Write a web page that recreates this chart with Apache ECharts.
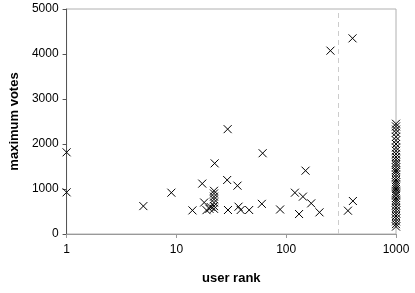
<!DOCTYPE html>
<html><head><meta charset="utf-8">
<script src="https://cdn.jsdelivr.net/npm/echarts@6/dist/echarts.min.js"></script>
<style>html,body{margin:0;padding:0;background:#fff}#c{width:415px;height:293px}</style>
</head><body><div id="c"></div>
<script>
// user rank values (x) and maximum votes (y)
var ranks = [1, 1, 5, 9, 14, 17.2, 17.9, 18.8, 20, 20.5, 22, 22, 22, 22, 22, 22, 22, 22.3, 29.3, 29, 29.5, 36, 36.8, 38.5, 46, 60, 61, 88,
  120, 131, 142, 150, 169, 201, 253, 365, 402, 405];
var votes = [1815, 926, 620, 918, 525, 1120, 700, 530, 560, 600, 960, 900, 830, 770, 700, 620, 560, 1570, 2330, 1200, 533, 1074, 607, 533, 533, 670, 1795, 545,
  918, 444, 830, 1407, 681, 481, 4074, 518, 4348, 733];
var rank1000Votes = [2450, 2390, 2320, 2250, 2160, 2080, 2000, 1920, 1850, 1780, 1710, 1650, 1590, 1540, 1480, 1420, 1380, 1320, 1260, 1200, 1150,
  1100, 1050, 1000, 950, 900, 860, 800, 750, 700, 640, 580, 520, 460, 400, 340, 280, 220, 165];
var cutoffRank = 300;
var xTicks = [1, 10, 100, 1000];
var yTicks = [0, 1000, 2000, 3000, 4000, 5000];

var pts = ranks.map(function (r, i) { return [r, votes[i]]; });
rank1000Votes.forEach(function (v) { pts.push([1000, v]); });

var chart = echarts.init(document.getElementById('c'), null, {renderer: 'canvas'});
var font = 'Liberation Sans, Arial, sans-serif';
function plain(v) { return String(Math.round(v)); }
chart.setOption({
  animation: false,
  grid: {left: 64, right: 19, top: 9, bottom: 59, show: true, borderColor: '#b0b0b0', borderWidth: 1},
  xAxis: {
    type: 'log', logBase: 10, min: xTicks[0], max: xTicks[xTicks.length - 1],
    name: 'user rank', nameLocation: 'middle', nameGap: 38,
    nameTextStyle: {fontFamily: font, fontSize: 13, fontWeight: 'bold', color: '#000'},
    axisLine: {lineStyle: {color: '#999', width: 1}},
    axisTick: {show: true, length: 4, lineStyle: {color: '#999'}},
    minorTick: {show: false},
    splitLine: {show: false},
    axisLabel: {fontFamily: font, fontSize: 12, color: '#000', margin: 10, formatter: plain}
  },
  yAxis: {
    type: 'value', min: yTicks[0], max: yTicks[yTicks.length - 1], interval: 1000,
    name: 'maximum votes', nameLocation: 'middle', nameGap: 43,
    nameTextStyle: {fontFamily: font, fontSize: 13, fontWeight: 'bold', color: '#000'},
    axisLine: {show: true, lineStyle: {color: '#555', width: 1}},
    axisTick: {show: true, length: 4, lineStyle: {color: '#555'}},
    splitLine: {show: false},
    axisLabel: {fontFamily: font, fontSize: 12, color: '#000', margin: 8, formatter: plain}
  },
  series: [{
    type: 'scatter',
    data: pts,
    symbol: 'path://M0,0L10,10M10,0L0,10',
    symbolSize: 8,
    itemStyle: {color: 'rgba(0,0,0,0)', borderColor: '#000', borderWidth: 1, opacity: 1},
    markLine: {
      silent: true, symbol: ['none', 'none'], label: {show: false},
      lineStyle: {type: [5, 4], color: '#ccc', width: 1},
      data: [{xAxis: cutoffRank}]
    }
  }]
});
</script></body></html>
